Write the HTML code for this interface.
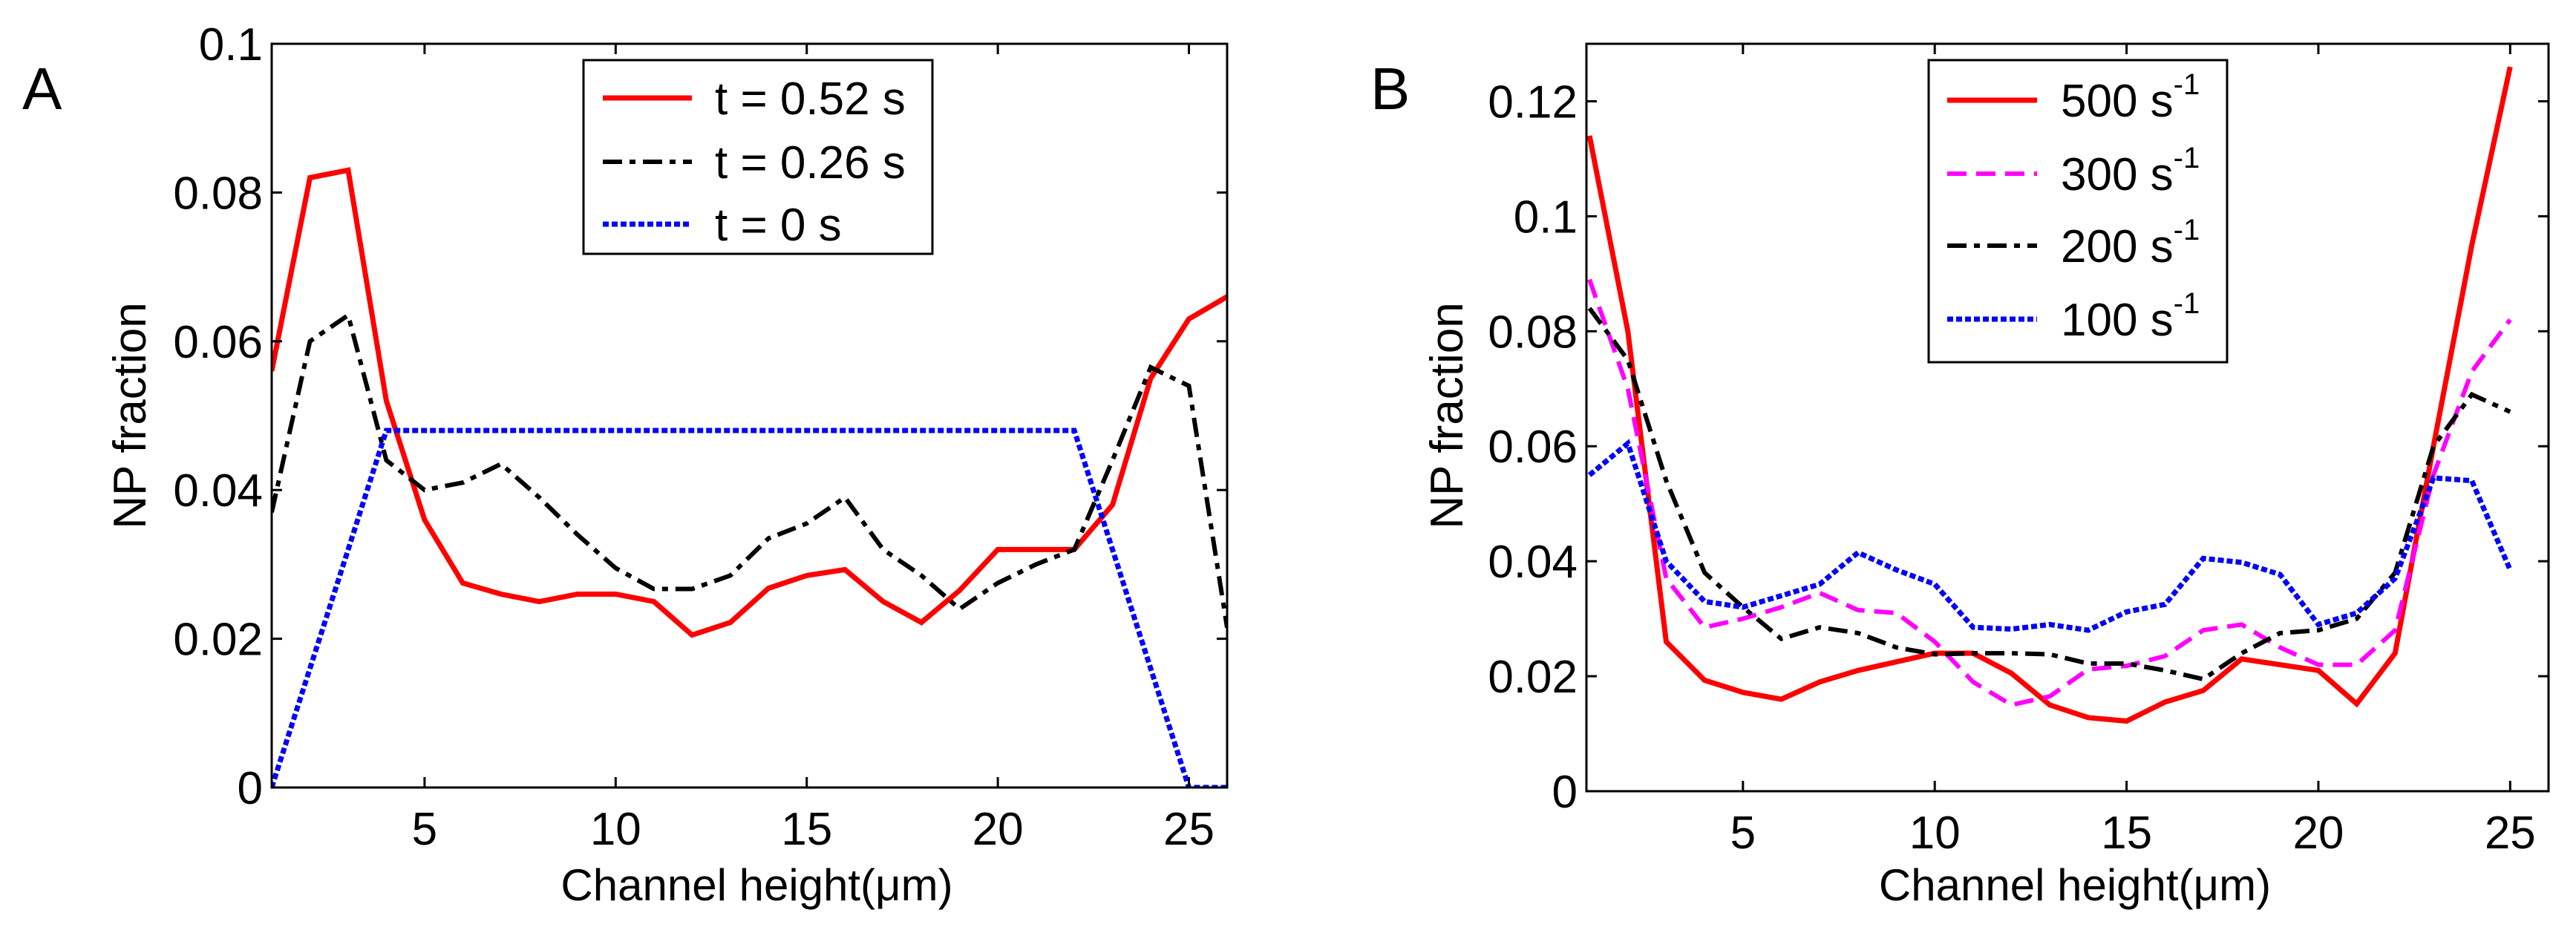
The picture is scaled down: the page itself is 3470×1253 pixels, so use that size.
<!DOCTYPE html>
<html><head><meta charset="utf-8"><style>
html,body{margin:0;padding:0;background:#fff;}
svg text{font-family:"Liberation Sans",sans-serif;fill:#000;}
</style></head><body>
<svg id="fig" width="3470" height="1248" viewBox="0 0 3470 1248" xmlns="http://www.w3.org/2000/svg">
<rect width="3470" height="1248" fill="#fff"/>
<g id="pa"></g>
<g id="pb"></g>
</svg>
<script>
// Panel A data
const xA = [1,2,3,4,5,6,7,8,9,10,11,12,13,14,15,16,17,18,19,20,21,22,23,24,25,26];
const a052 = [0.056,0.082,0.083,0.052,0.036,0.0275,0.026,0.025,0.026,0.026,0.025,0.0205,0.0222,0.0268,0.0285,0.0293,0.025,0.0222,0.0265,0.032,0.032,0.032,0.038,0.055,0.063,0.066];
const a026 = [0.037,0.06,0.0635,0.044,0.040,0.041,0.0435,0.039,0.034,0.0295,0.0267,0.0267,0.0285,0.0335,0.0355,0.039,0.032,0.0285,0.024,0.0275,0.030,0.032,0.044,0.0565,0.054,0.0215];
const a000 = [0,0.016,0.032,0.048,0.048,0.048,0.048,0.048,0.048,0.048,0.048,0.048,0.048,0.048,0.048,0.048,0.048,0.048,0.048,0.048,0.048,0.048,0.032,0.016,0,0];
const yTicksA = [0,0.02,0.04,0.06,0.08,0.1];
const yTickLabelsA = ["0","0.02","0.04","0.06","0.08","0.1"];
// Panel B data
const xB = [1,2,3,4,5,6,7,8,9,10,11,12,13,14,15,16,17,18,19,20,21,22,23,24,25];
const b500 = [0.114,0.08,0.026,0.0193,0.0172,0.016,0.019,0.021,0.0225,0.024,0.024,0.0205,0.015,0.0128,0.0122,0.0155,0.0175,0.023,0.022,0.021,0.0152,0.024,0.06,0.095,0.126];
const b300 = [0.089,0.07,0.037,0.0285,0.030,0.032,0.0345,0.0315,0.031,0.026,0.019,0.015,0.0165,0.0212,0.0218,0.0235,0.028,0.029,0.025,0.022,0.022,0.028,0.055,0.073,0.082];
const b200 = [0.084,0.075,0.054,0.038,0.032,0.0265,0.0285,0.0275,0.025,0.0238,0.024,0.024,0.0238,0.0222,0.0222,0.021,0.0195,0.024,0.0275,0.028,0.030,0.038,0.060,0.069,0.066];
const b100 = [0.055,0.0605,0.040,0.033,0.032,0.034,0.036,0.0415,0.0385,0.036,0.0285,0.0282,0.029,0.028,0.0312,0.0325,0.0405,0.0398,0.0377,0.029,0.031,0.037,0.0545,0.054,0.0385];
const yTicksB = [0,0.02,0.04,0.06,0.08,0.1,0.12];
const yTickLabelsB = ["0","0.02","0.04","0.06","0.08","0.1","0.12"];
const xTicks = [5,10,15,20,25];
const xTickLabels = ["5","10","15","20","25"];

const NS="http://www.w3.org/2000/svg";
function mk(parent,tag,attrs){const e=document.createElementNS(NS,tag);for(const k in attrs)e.setAttribute(k,attrs[k]);parent.appendChild(e);return e;}

const STY = {
  red:{stroke:"#ff0000",w:7,dash:null},
  black:{stroke:"#000",w:6,dash:"26 10 8 10"},
  blue:{stroke:"#0000ff",w:7,dash:"8 4"},
  mag:{stroke:"#ff00ff",w:6,dash:"26 13"}
};

function panel(g,cfg){
  const sx=v=>cfg.L+(v-cfg.xmin)/(cfg.xmax-cfg.xmin)*(cfg.R-cfg.L);
  const sy=v=>cfg.B-(v-cfg.ymin)/(cfg.ymax-cfg.ymin)*(cfg.B-cfg.T);
  // series (clipped)
  const cid="clip"+cfg.id;
  const cp=mk(mk(g,"defs",{}),"clipPath",{id:cid});
  mk(cp,"rect",{x:cfg.L,y:cfg.T,width:cfg.R-cfg.L,height:cfg.B-cfg.T});
  const sg=mk(g,"g",{"clip-path":"url(#"+cid+")"});
  
  
  cfg.series.forEach(s=>{
    const st=STY[s.style];
    const pts=s.y.map((v,i)=>sx(s.x[i]).toFixed(1)+","+sy(v).toFixed(1)).join(" ");
    const p=mk(sg,"polyline",{points:pts,fill:"none",stroke:st.stroke,"stroke-width":st.w,"stroke-linejoin":"miter"});
    if(st.dash)p.setAttribute("stroke-dasharray",st.dash);
    
    
  });
  // box
  const bx=mk(g,"rect",{x:cfg.L,y:cfg.T,width:cfg.R-cfg.L,height:cfg.B-cfg.T,fill:"none",stroke:"#000","stroke-width":3});
  
  
  // ticks
  cfg.yt.forEach((v,i)=>{
    const y=sy(v);
    mk(g,"line",{x1:cfg.L,x2:cfg.L+14,y1:y,y2:y,stroke:"#000","stroke-width":3});
    mk(g,"line",{x1:cfg.R,x2:cfg.R-14,y1:y,y2:y,stroke:"#000","stroke-width":3});
    const t=mk(g,"text",{x:cfg.L-12,y:y+22,"text-anchor":"end","font-size":62});
    t.textContent=cfg.ytl[i];
    
    
  });
  xTicks.forEach((v,i)=>{
    const x=sx(v);
    mk(g,"line",{x1:x,x2:x,y1:cfg.B,y2:cfg.B-14,stroke:"#000","stroke-width":3});
    mk(g,"line",{x1:x,x2:x,y1:cfg.T,y2:cfg.T+14,stroke:"#000","stroke-width":3});
    const t=mk(g,"text",{x:x,y:cfg.B+77,"text-anchor":"middle","font-size":62});
    t.textContent=xTickLabels[i];
    
    
  });
  const xl=mk(g,"text",{x:(cfg.L+cfg.R)/2+10,y:1213,"text-anchor":"middle","font-size":60});
  xl.textContent="Channel height(μm)";
  
  
  const yl=mk(g,"text",{x:0,y:0,"text-anchor":"middle","font-size":62,transform:"translate("+cfg.ylx+",560) rotate(-90)"});
  yl.textContent="NP fraction";
  
  
  const pl=mk(g,"text",{x:cfg.plx,y:147,"font-size":80});
  pl.textContent=cfg.label;
  
  
  // legend
  const lg=mk(g,"g",{});
  
  
  mk(lg,"rect",{x:cfg.lg.x,y:cfg.lg.y,width:cfg.lg.w,height:cfg.lg.h,fill:"#fff",stroke:"#000","stroke-width":3});
  cfg.series.forEach((s,i)=>{
    const st=STY[s.style];const y=cfg.lg.rows[i];
    const e=mk(lg,"g",{});
    
    
    const l=mk(e,"line",{x1:cfg.lg.lx1,x2:cfg.lg.lx2,y1:y,y2:y,stroke:st.stroke,"stroke-width":st.w});
    if(st.dash)l.setAttribute("stroke-dasharray",st.dash);
    const t=mk(e,"text",{x:cfg.lg.tx,y:y+22,"font-size":62});
    if(s.sup){t.textContent=s.label;const ts=mk(t,"tspan",{dy:-30,"font-size":40});ts.textContent="-1";}
    else t.textContent=s.label;
  });
}

panel(document.getElementById("pa"),{id:"A",L:366,R:1653,T:59,B:1061,xmin:1,xmax:26,ymin:0,ymax:0.1,
  yt:yTicksA,ytl:yTickLabelsA,ylx:196,plx:30,label:"A",
  series:[{x:xA,y:a052,style:"red",name:"line-t-0.52s",label:"t = 0.52 s"},
          {x:xA,y:a026,style:"black",name:"line-t-0.26s",label:"t = 0.26 s"},
          {x:xA,y:a000,style:"blue",name:"line-t-0s",label:"t = 0 s"}],
  lg:{x:786,y:81,w:470,h:261,rows:[132,218,302],lx1:812,lx2:932,tx:963}});
panel(document.getElementById("pb"),{id:"B",L:2137,R:3433,T:59,B:1066,xmin:0.92,xmax:26,ymin:0,ymax:0.13,
  yt:yTicksB,ytl:yTickLabelsB,ylx:1970,plx:1846,label:"B",
  series:[{x:xB,y:b500,style:"red",name:"line-500",label:"500 s",sup:true},
          {x:xB,y:b300,style:"mag",name:"line-300",label:"300 s",sup:true},
          {x:xB,y:b200,style:"black",name:"line-200",label:"200 s",sup:true},
          {x:xB,y:b100,style:"blue",name:"line-100",label:"100 s",sup:true}],
  lg:{x:2598,y:81,w:402,h:407,rows:[135,234,331,430],lx1:2623,lx2:2744,tx:2776}});
</script>
</body></html>
